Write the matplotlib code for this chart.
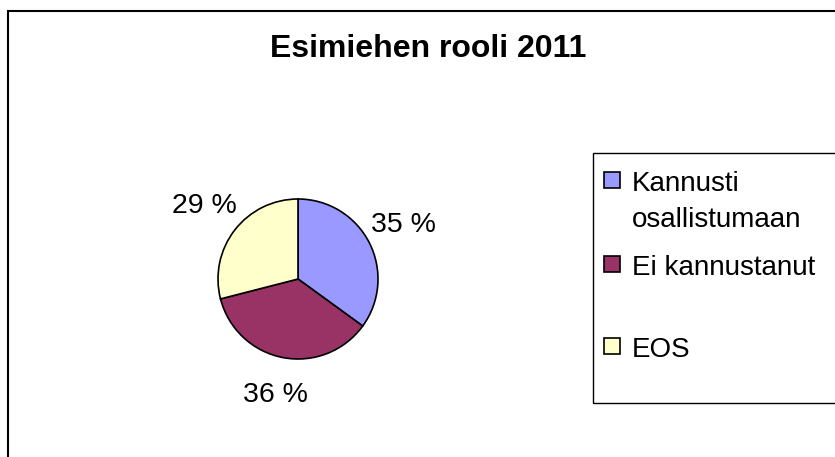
import matplotlib.pyplot as plt
from matplotlib.patches import Rectangle

# data
categories = ["Kannusti\nosallistumaan", "Ei kannustanut", "EOS"]
values = [35, 36, 29]
colors = ["#9999FF", "#993366", "#FFFFCC"]
title = "Esimiehen rooli 2011"

plt.rcParams['font.family'] = ['Liberation Sans', 'DejaVu Sans']

W, H = 835, 457
fig = plt.figure(figsize=(W / 100, H / 100), dpi=100)

# outer chart border (only left/top visible)
fig.patches.append(Rectangle((8 / W, -0.5), 2, 0.5 + (H - 11) / H, transform=fig.transFigure,
                             fill=False, edgecolor="black", linewidth=1.5))

# pie
cx, cy, r = 298, 279, 80
ax = fig.add_axes([(cx - r) / W, (H - cy - r) / H, 2 * r / W, 2 * r / H])
wedges, _, autotexts = ax.pie(values, colors=colors, startangle=90, counterclock=False,
                              autopct=lambda p: f"{p:.0f} %", pctdistance=1.48,
                              wedgeprops=dict(edgecolor="black", linewidth=1.2),
                              textprops=dict(fontsize=20.5))
ax.set_xlim(-1, 1)
ax.set_ylim(-1, 1)
ax.set_aspect("equal")

fig.text(428 / W, 1 - 57 / H, title, ha="center", va="baseline", fontsize=23, fontweight="bold")

# legend box
fig.patches.append(Rectangle((593 / W, 1 - 403 / H), 1, 250 / H, transform=fig.transFigure,
                             fill=False, edgecolor="black", linewidth=1))
row_y = [180, 264, 346]
for lab, col, y in zip(categories, colors, row_y):
    fig.patches.append(Rectangle((604 / W, 1 - (y + 8) / H), 16 / W, 16 / H, transform=fig.transFigure,
                                 facecolor=col, edgecolor="black", linewidth=1.2))
    for i, line in enumerate(lab.split("\n")):
        fig.text(632 / W, 1 - (y + 11 + 36 * i) / H, line, ha="left", va="baseline", fontsize=20)

fig.savefig("out.png", dpi=100)
